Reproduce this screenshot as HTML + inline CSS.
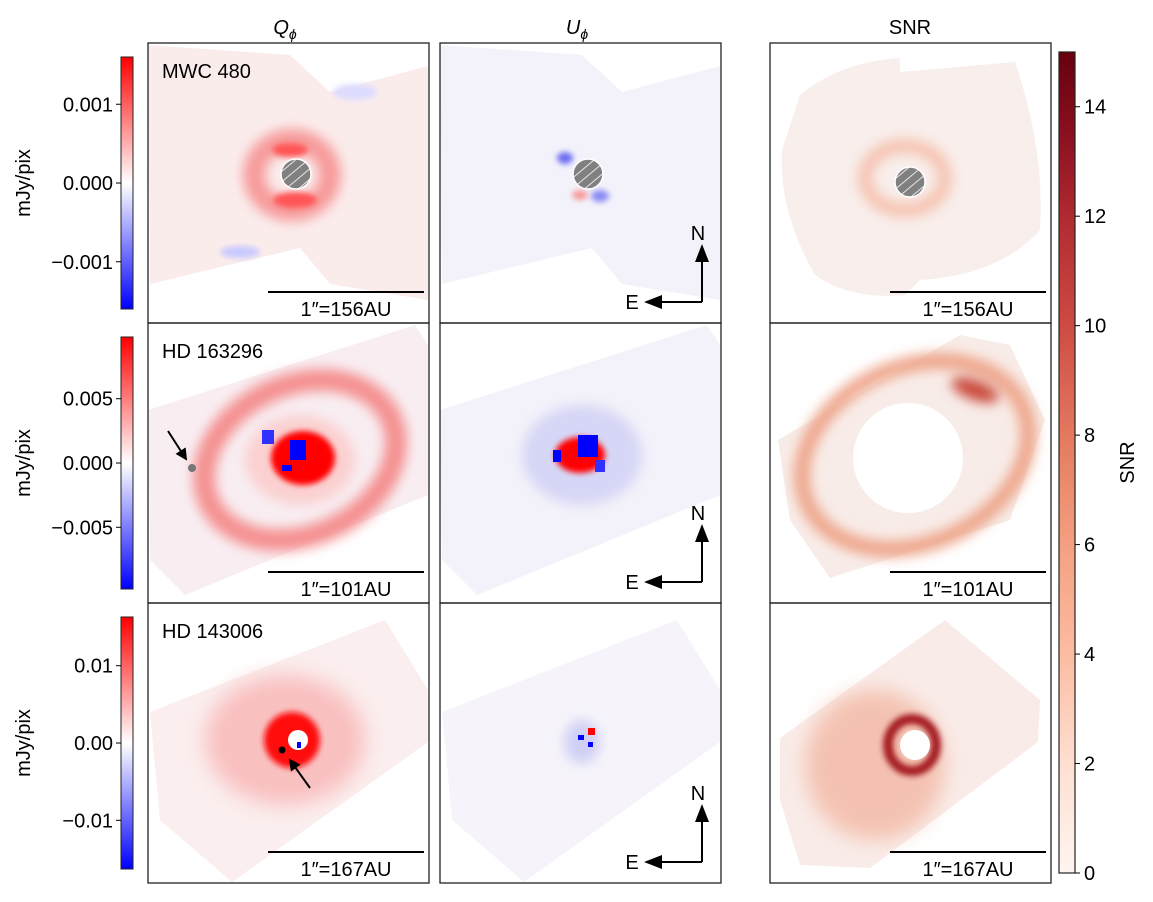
<!DOCTYPE html>
<html><head><meta charset="utf-8">
<style>
html,body{margin:0;padding:0;background:#fff;}
svg{display:block;font-family:"Liberation Sans","DejaVu Sans",sans-serif;}
</style></head>
<body>
<svg id="fig" width="1153" height="902" viewBox="0 0 1153 902" xmlns="http://www.w3.org/2000/svg">
<defs>
  <linearGradient id="bwr" x1="0" y1="1" x2="0" y2="0">
    <stop offset="0" stop-color="#0000ff"/>
    <stop offset="0.5" stop-color="#ffffff"/>
    <stop offset="1" stop-color="#ff0000"/>
  </linearGradient>
  <linearGradient id="reds" x1="0" y1="1" x2="0" y2="0">
    <stop offset="0" stop-color="#fff5f0"/>
    <stop offset="0.13" stop-color="#fee0d2"/>
    <stop offset="0.27" stop-color="#fcbba1"/>
    <stop offset="0.4" stop-color="#f4a080"/>
    <stop offset="0.53" stop-color="#e47a60"/>
    <stop offset="0.67" stop-color="#cd4a42"/>
    <stop offset="0.8" stop-color="#b02a30"/>
    <stop offset="0.9" stop-color="#8a1020"/>
    <stop offset="1" stop-color="#67000d"/>
  </linearGradient>
  <filter id="b3" x="-100%" y="-100%" width="300%" height="300%"><feGaussianBlur stdDeviation="3"/></filter>
  <filter id="b6" x="-100%" y="-100%" width="300%" height="300%"><feGaussianBlur stdDeviation="6"/></filter>
  <filter id="b10" x="-100%" y="-100%" width="300%" height="300%"><feGaussianBlur stdDeviation="10"/></filter>
  <pattern id="hatch" width="8" height="8" patternUnits="userSpaceOnUse" patternTransform="rotate(-40)">
    <rect width="8" height="8" fill="#808080"/><line x1="0" y1="0" x2="8" y2="0" stroke="#fff" stroke-width="1.6"/>
  </pattern>
  <marker id="ah" markerWidth="6" markerHeight="6" refX="5" refY="3" orient="auto"><path d="M0,0 L6,3 L0,6 z" fill="#000"/></marker>
</defs>

<!-- column titles -->
<text x="285" y="34" font-size="20" font-style="italic" text-anchor="middle">Q<tspan font-size="14" dy="5">ϕ</tspan></text>
<text x="577" y="34" font-size="20" font-style="italic" text-anchor="middle">U<tspan font-size="14" dy="5">ϕ</tspan></text>
<text x="910" y="34" font-size="20" text-anchor="middle">SNR</text>

<!-- ROW 1 -->
<g>
  <polygon points="148,45 290,55 330,92 428,66 428,300 330,284 300,248 150,284" fill="#fbecec"/>
  <ellipse cx="292" cy="175" rx="38" ry="35" fill="none" stroke="#f79a9a" stroke-width="22" filter="url(#b6)"/>
  <ellipse cx="295" cy="200" rx="22" ry="8" fill="#f55" filter="url(#b3)"/>
  <ellipse cx="290" cy="150" rx="18" ry="7" fill="#f55" filter="url(#b3)"/>
  <ellipse cx="240" cy="252" rx="20" ry="6" fill="#c8c8ff" filter="url(#b3)"/>
  <ellipse cx="355" cy="92" rx="22" ry="8" fill="#dcdcff" filter="url(#b3)"/>
  <circle cx="296" cy="174" r="15" fill="url(#hatch)" stroke="#fff" stroke-width="1.5"/>
</g>
<g>
  <polygon points="440,45 582,55 622,92 720,66 720,300 622,284 592,248 442,284" fill="#f3f2fb"/>
  <ellipse cx="565" cy="158" rx="8" ry="6" fill="#6c6cf2" filter="url(#b3)"/>
  <ellipse cx="600" cy="196" rx="9" ry="6" fill="#8a8af5" filter="url(#b3)"/>
  <ellipse cx="580" cy="195" rx="8" ry="5" fill="#f59a9a" filter="url(#b3)"/>
  <circle cx="588" cy="174" r="15" fill="url(#hatch)" stroke="#fff" stroke-width="1.5"/>
</g>
<g>
  <path d="M800,95 Q840,62 900,58 L900,72 L1015,62 Q1045,150 1040,230 Q1000,275 920,280 L905,295 Q850,300 815,275 Q778,210 782,150 Z" fill="#f8eeeb"/>
  <ellipse cx="905" cy="178" rx="40" ry="32" fill="none" stroke="#f6c2b0" stroke-width="14" filter="url(#b6)"/>
  <circle cx="910" cy="182" r="15" fill="url(#hatch)" stroke="#fff" stroke-width="1.5"/>
</g>

<!-- ROW 2 -->
<g>
  <polygon points="148,410 415,325 428,345 428,495 185,595 150,560" fill="#f8eef2"/>
  <ellipse cx="300" cy="460" rx="100" ry="75" transform="rotate(-25 300 460)" fill="none" stroke="#f59090" stroke-width="22" filter="url(#b6)"/>
  <ellipse cx="300" cy="460" rx="55" ry="45" fill="#fbd0d0" filter="url(#b6)"/>
  <ellipse cx="303" cy="458" rx="32" ry="27" fill="#ff0000" filter="url(#b3)"/>
  <rect x="290" y="440" width="16" height="20" fill="#0000ff"/>
  <rect x="262" y="430" width="12" height="14" fill="#3030ff"/>
  <rect x="282" y="465" width="10" height="6" fill="#0000ff"/>
  <circle cx="192" cy="468" r="4" fill="#777"/>
  <line x1="168" y1="431" x2="186" y2="459" stroke="#000" stroke-width="2" marker-end="url(#ah)"/>
</g>
<g>
  <polygon points="440,410 707,325 720,345 720,495 477,595 442,560" fill="#f3f2fa"/>
  <ellipse cx="582" cy="455" rx="60" ry="50" fill="#d6d6f6" filter="url(#b6)"/>
  <ellipse cx="580" cy="455" rx="25" ry="18" fill="#ff0000" filter="url(#b3)"/>
  <rect x="578" y="435" width="20" height="22" fill="#0000ff"/>
  <rect x="553" y="450" width="8" height="12" fill="#0000ff"/>
  <rect x="595" y="460" width="10" height="12" fill="#3030ff"/>
</g>
<g>
  <polygon points="778,440 960,335 1010,345 1045,420 1010,520 830,578 790,520" fill="#f8ece8"/>
  <ellipse cx="915" cy="455" rx="118" ry="88" transform="rotate(-25 915 455)" fill="none" stroke="#eea58a" stroke-width="16" filter="url(#b6)"/>
  <ellipse cx="975" cy="390" rx="25" ry="10" transform="rotate(20 975 390)" fill="#c94a3a" filter="url(#b6)"/>
  <circle cx="908" cy="458" r="55" fill="#fff"/>
</g>

<!-- ROW 3 -->
<g>
  <polygon points="150,712 385,620 428,690 428,742 232,882 160,820" fill="#fbeeee"/>
  <ellipse cx="285" cy="740" rx="80" ry="65" fill="#f9c0c0" filter="url(#b10)"/>
  <circle cx="292" cy="740" r="28" fill="#ff1010" filter="url(#b3)"/>
  <circle cx="298" cy="740" r="10" fill="#fff"/>
  <rect x="297" y="742" width="4" height="6" fill="#0000ff"/>
  <circle cx="282" cy="750" r="3.5" fill="#000"/>
  <line x1="310" y1="788" x2="290" y2="760" stroke="#000" stroke-width="2" marker-end="url(#ah)"/>
</g>
<g>
  <polygon points="442,712 677,620 720,690 720,742 524,882 452,820" fill="#f6f4fa"/>
  <ellipse cx="582" cy="742" rx="18" ry="22" fill="#cfcff5" filter="url(#b6)"/>
  <rect x="588" y="728" width="7" height="7" fill="#ff0000"/>
  <rect x="578" y="735" width="6" height="5" fill="#0000ff"/>
  <rect x="588" y="742" width="5" height="5" fill="#0000ff"/>
</g>
<g>
  <polygon points="780,738 945,620 1040,700 1038,742 870,868 800,865 780,800" fill="#f9ece8"/>
  <ellipse cx="875" cy="765" rx="70" ry="75" fill="#f2b09a" opacity="0.7" filter="url(#b10)"/>
  <ellipse cx="912" cy="745" rx="24" ry="26" fill="none" stroke="#a51c20" stroke-width="10" filter="url(#b3)"/>
  <circle cx="915" cy="745" r="15" fill="#fff"/>
</g>

<g id="frames"></g>
<g id="labels"></g>
<g id="cbars"></g>
</svg>

<script>
// ---- data arrays ----
const targets = ["MWC 480", "HD 163296", "HD 143006"];
const scaleLabels = ["1″=156AU", "1″=101AU", "1″=167AU"];
const cbarRanges = [[-0.0016, 0.0016], [-0.0098, 0.0098], [-0.0163, 0.0163]];
const cbarTicks = [[0.001, 0.000, -0.001], [0.005, 0.000, -0.005], [0.01, 0.00, -0.01]];
const cbarTickLabels = [["0.001", "0.000", "−0.001"], ["0.005", "0.000", "−0.005"], ["0.01", "0.00", "−0.01"]];
const snrRange = [0, 15];
const snrTicks = [0, 2, 4, 6, 8, 10, 12, 14];

const NS = "http://www.w3.org/2000/svg";
function mk(tag, attrs, parent, txt) {
  const e = document.createElementNS(NS, tag);
  for (const k in attrs) e.setAttribute(k, attrs[k]);
  if (txt !== undefined) e.textContent = txt;
  parent.appendChild(e);
  return e;
}
const colX = [148, 440, 770], rowY = [43, 323, 603], PW = 281, PH = 280;
const FS = 20;
const frames = document.getElementById("frames");
const labels = document.getElementById("labels");
const cbars = document.getElementById("cbars");

for (let r = 0; r < 3; r++) {
  for (let c = 0; c < 3; c++) {
    const f = mk("rect", {x: colX[c], y: rowY[r], width: PW, height: PH, fill: "none", stroke: "#222", "stroke-width": 1.3}, frames);
    
    
    if (c !== 1) {
      const sb = mk("line", {x1: colX[c] + 120, x2: colX[c] + 276, y1: rowY[r] + 249, y2: rowY[r] + 249, stroke: "#000", "stroke-width": 2}, labels);
      
      
      const st = mk("text", {x: colX[c] + 198, y: rowY[r] + 273, "font-size": FS, "text-anchor": "middle"}, labels, scaleLabels[r]);
      
      
    } else {
      const g = mk("g", {}, labels);
      
      
      const cx = 702, cy = rowY[r] + 259;
      mk("line", {x1: cx, y1: cy, x2: cx, y2: cy - 42, stroke: "#000", "stroke-width": 2}, g);
      mk("path", {d: `M${cx - 7},${cy - 40} L${cx},${cy - 58} L${cx + 7},${cy - 40} Z`, fill: "#000"}, g);
      mk("line", {x1: cx, y1: cy, x2: cx - 42, y2: cy, stroke: "#000", "stroke-width": 2}, g);
      mk("path", {d: `M${cx - 40},${cy - 7} L${cx - 58},${cy} L${cx - 40},${cy + 7} Z`, fill: "#000"}, g);
      mk("text", {x: cx - 4, y: cy - 62, "font-size": FS, "text-anchor": "middle"}, g, "N");
      mk("text", {x: cx - 70, y: cy + 7, "font-size": FS, "text-anchor": "middle"}, g, "E");
    }
  }
  const tl = mk("text", {x: 162, y: rowY[r] + 35, "font-size": FS}, labels, targets[r]);
  
  

  // left colorbar
  const top = rowY[r] + 14, bot = rowY[r] + 266, x0 = 121, w = 12;
  const [lo, hi] = cbarRanges[r];
  const yv = v => bot - (v - lo) / (hi - lo) * (bot - top);
  const cb = mk("rect", {x: x0, y: top, width: w, height: bot - top, fill: "url(#bwr)", stroke: "#222", "stroke-width": 1}, cbars);
  
  
  cbarTicks[r].forEach((v, i) => {
    const y = yv(v);
    mk("line", {x1: x0 - 5, x2: x0, y1: y, y2: y, stroke: "#000", "stroke-width": 1}, cbars);
    const t = mk("text", {x: x0 - 8, y: y + 7, "font-size": FS, "text-anchor": "end"}, cbars, cbarTickLabels[r][i]);
    
    
  });
  const yl = mk("text", {x: 0, y: 0, "font-size": FS, "text-anchor": "middle", transform: `translate(30 ${(top + bot) / 2}) rotate(-90)`}, cbars, "mJy/pix");
  
  
}

// right SNR colorbar
const sTop = 52, sBot = 873, sx = 1059, sw = 16;
const ys = v => sBot - (v - snrRange[0]) / (snrRange[1] - snrRange[0]) * (sBot - sTop);
const scb = mk("rect", {x: sx, y: sTop, width: sw, height: sBot - sTop, fill: "url(#reds)", stroke: "#222", "stroke-width": 1.2}, cbars);


snrTicks.forEach(v => {
  const y = ys(v);
  mk("line", {x1: sx + sw, x2: sx + sw + 5, y1: y, y2: y, stroke: "#000", "stroke-width": 1}, cbars);
  const t = mk("text", {x: sx + sw + 9, y: y + 7, "font-size": FS}, cbars, String(v));
  
  
});
const st = mk("text", {x: 0, y: 0, "font-size": FS, "text-anchor": "middle", transform: `translate(1134 ${(sTop + sBot) / 2}) rotate(-90)`}, cbars, "SNR");


</script>
</body></html>
